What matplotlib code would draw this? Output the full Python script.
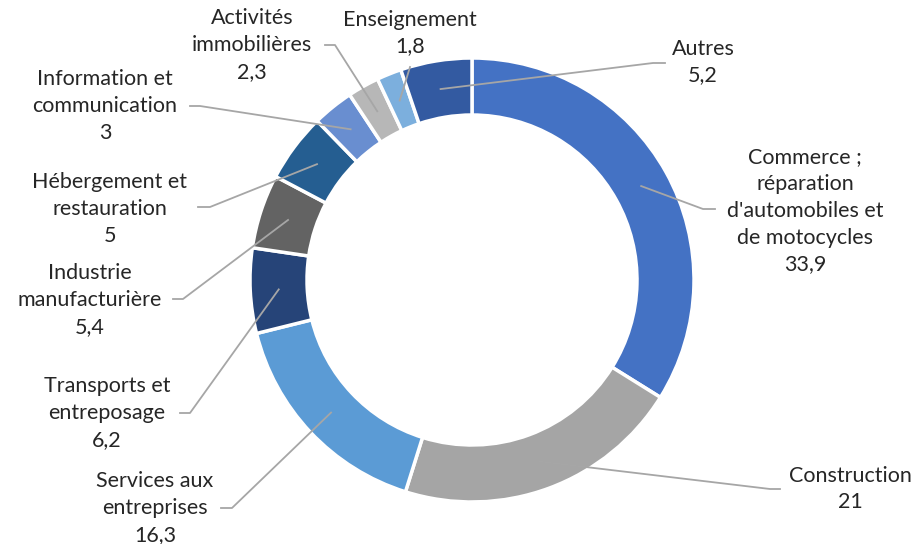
import matplotlib.pyplot as plt
import numpy as np

# Data (clockwise from 12 o'clock)
categories = ["Commerce ;\nréparation\nd'automobiles et\nde motocycles",
              "Construction",
              "Services aux\nentreprises",
              "Transports et\nentreposage",
              "Industrie\nmanufacturière",
              "Hébergement et\nrestauration",
              "Information et\ncommunication",
              "Activités\nimmobilières",
              "Enseignement",
              "Autres"]
values = [33.9, 21, 16.3, 6.2, 5.4, 5, 3, 2.3, 1.8, 5.2]
colors = ["#4472C4", "#A5A5A5", "#5B9BD5", "#264478", "#636363",
          "#255E91", "#698ED0", "#B7B7B7", "#7CAFDD", "#335AA1"]

# Label layout in pixels (from top-left): text centre, stub start x, stub end x, stub y
label_xy = [(805, 211), (850, 489), (155, 508), (107, 413), (90, 300),
            (110, 209), (105, 106), (252, 45), (410, 33), (703, 62)]
stubs = [(715, 703, 209), (780, 770, 489), (221, 232, 508), (180, 190, 413),
         (173, 183, 299), (198, 210, 207), (190, 200, 106), (325, 335, 45),
         (410, 410, 67), (665, 653, 63)]

W, H = 917, 544
CX, CY, R, RING = 472, 280, 222, 57


def py(y):
    return H - y


def draw_donut():
    plt.rcParams['font.family'] = ['Lato', 'DejaVu Sans']
    fig = plt.figure(figsize=(W / 100, H / 100), dpi=100)
    ax = fig.add_axes([0, 0, 1, 1])

    ax.pie(values, colors=colors, startangle=90, counterclock=False,
           radius=R, center=(CX, py(CY)),
           wedgeprops=dict(width=RING, edgecolor='white', linewidth=2.5))

    total = sum(values)
    cum = np.cumsum(values)
    r_anchor = R - RING / 2
    for i, v in enumerate(values):
        theta = np.deg2rad((cum[i] - v / 2) / total * 360)
        ax_x = CX + r_anchor * np.sin(theta)
        ax_y = py(CY) + r_anchor * np.cos(theta)
        x0, x1, sy = stubs[i]
        ax.plot([x0, x1, ax_x], [py(sy), py(sy), ax_y],
                color='#A6A6A6', linewidth=1.3, zorder=3)
        txt = categories[i] + "\n" + f"{v:g}".replace('.', ',')
        tx, ty = label_xy[i]
        ax.text(tx, py(ty), txt, ha='center', va='center', fontsize=15.5,
                color='#262626', linespacing=1.42)

    ax.set_xlim(0, W)
    ax.set_ylim(0, H)
    ax.set_aspect('equal')
    ax.axis('off')
    fig.savefig('out.png', dpi=100, facecolor='white')


if __name__ == "__main__":
    draw_donut()
